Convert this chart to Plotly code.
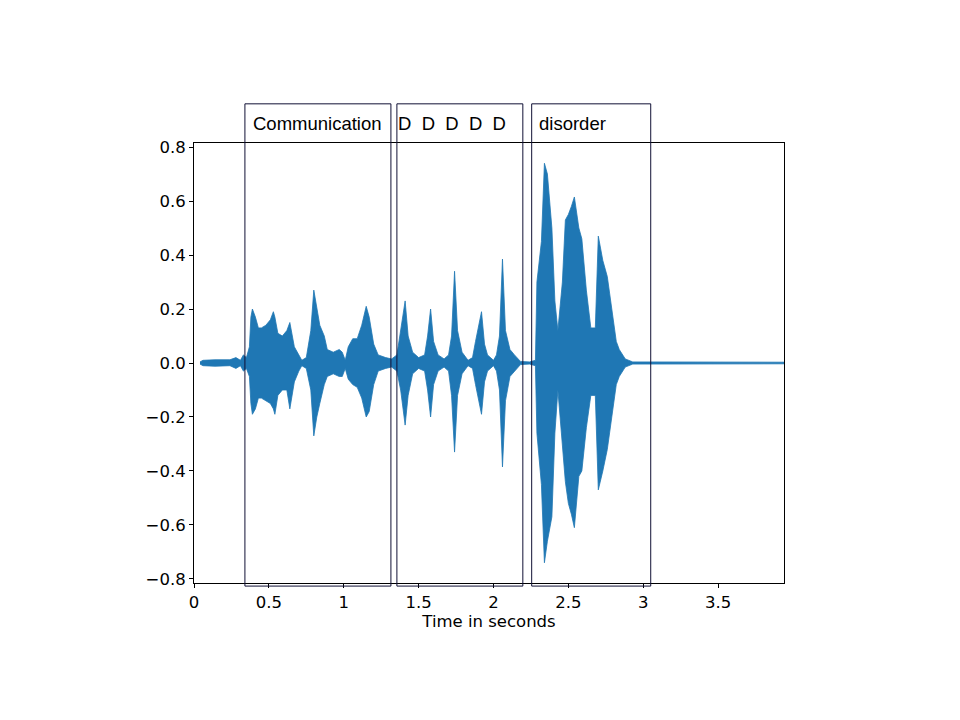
"""Waveform of an utterance with word boxes, drawn as a min/max envelope."""
import plotly.graph_objects as go

WAVE_BLUE = "#1f77b4"
BOX_EDGE = "#101035"

# envelope: time (s), upper and lower sample extremes
time_s = [0.04, 0.06, 0.14, 0.24, 0.28, 0.31, 0.33, 0.35, 0.37, 0.38,
          0.39, 0.41, 0.43, 0.45, 0.48, 0.51, 0.53, 0.54, 0.56, 0.59,
          0.62, 0.64, 0.67, 0.70, 0.72, 0.75, 0.78, 0.80, 0.82, 0.84,
          0.87, 0.89, 0.93, 0.97, 0.99, 1.01, 1.03, 1.06, 1.09, 1.12,
          1.15, 1.17, 1.20, 1.23, 1.28, 1.32, 1.355, 1.38, 1.41, 1.43,
          1.46, 1.50, 1.54, 1.56, 1.58, 1.60, 1.63, 1.67, 1.70, 1.72,
          1.74, 1.76, 1.79, 1.83, 1.86, 1.88, 1.92, 1.94, 1.96, 2.00,
          2.02, 2.04, 2.06, 2.08, 2.11, 2.14, 2.18, 2.24, 2.28, 2.29,
          2.32, 2.34, 2.36, 2.39, 2.41, 2.43, 2.46, 2.48, 2.50, 2.52,
          2.54, 2.57, 2.59, 2.62, 2.65, 2.68, 2.70, 2.73, 2.76, 2.79,
          2.82, 2.84, 2.88, 2.93, 3.38, 3.94]
upper = [0.004, 0.010, 0.012, 0.012, 0.020, 0.010, 0.030, 0.020, 0.060, 0.170,
         0.200, 0.170, 0.130, 0.130, 0.140, 0.160, 0.190, 0.170, 0.110, 0.100,
         0.120, 0.150, 0.060, 0.030, 0.010, 0.020, 0.120, 0.270, 0.200, 0.140,
         0.100, 0.050, 0.040, 0.050, 0.040, 0.010, 0.060, 0.090, 0.090, 0.140,
         0.210, 0.170, 0.070, 0.030, 0.020, 0.015, 0.030, 0.120, 0.230, 0.100,
         0.040, 0.020, 0.030, 0.100, 0.200, 0.080, 0.030, 0.015, 0.030, 0.100,
         0.340, 0.120, 0.040, 0.010, 0.020, 0.080, 0.190, 0.070, 0.030, 0.010,
         0.030, 0.100, 0.385, 0.120, 0.050, 0.030, 0.006, 0.004, 0.010, 0.300,
         0.450, 0.740, 0.700, 0.500, 0.230, 0.120, 0.300, 0.530, 0.550, 0.580,
         0.615, 0.500, 0.460, 0.270, 0.130, 0.130, 0.470, 0.380, 0.320, 0.200,
         0.080, 0.050, 0.015, 0.004, 0.003, 0.003]
lower = [-0.004, -0.010, -0.012, -0.010, -0.020, -0.010, -0.030, -0.020, -0.050, -0.150,
         -0.190, -0.170, -0.130, -0.130, -0.140, -0.150, -0.170, -0.190, -0.120, -0.100,
         -0.100, -0.170, -0.070, -0.030, -0.010, -0.020, -0.100, -0.270, -0.200, -0.150,
         -0.080, -0.050, -0.040, -0.050, -0.050, -0.020, -0.060, -0.080, -0.090, -0.130,
         -0.200, -0.180, -0.080, -0.030, -0.020, -0.015, -0.030, -0.100, -0.230, -0.120,
         -0.040, -0.020, -0.030, -0.100, -0.200, -0.080, -0.030, -0.015, -0.030, -0.120,
         -0.330, -0.120, -0.040, -0.010, -0.020, -0.080, -0.190, -0.070, -0.030, -0.010,
         -0.030, -0.100, -0.385, -0.140, -0.050, -0.030, -0.006, -0.004, -0.010, -0.260,
         -0.450, -0.740, -0.660, -0.570, -0.260, -0.100, -0.300, -0.440, -0.520, -0.560,
         -0.610, -0.420, -0.400, -0.240, -0.120, -0.120, -0.470, -0.400, -0.320, -0.200,
         -0.080, -0.050, -0.015, -0.004, -0.003, -0.003]

# word segments: label, start (s), end (s)
words = ["Communication", "D\u00a0\u00a0D\u00a0\u00a0D\u00a0\u00a0D\u00a0\u00a0D", "disorder"]
word_start = [0.34, 1.355, 2.255]
word_end = [1.315, 2.196, 3.05]

x_ticks = [0, 0.5, 1, 1.5, 2, 2.5, 3, 3.5]
x_labels = ["0", "0.5", "1", "1.5", "2", "2.5", "3", "3.5"]
y_ticks = [0.8, 0.6, 0.4, 0.2, 0.0, -0.2, -0.4, -0.6, -0.8]
y_labels = ["0.8", "0.6", "0.4", "0.2", "0.0", "\u22120.2", "\u22120.4", "\u22120.6", "\u22120.8"]

X_RANGE = [0, 3.94]
Y_RANGE = [-0.815, 0.815]
BOX_TOP, BOX_BOTTOM = 1.089, -0.007   # paper coords, boxes poke above the axes
LABEL_PAD_PX = (6, -1, 5)              # text inset from each box's left edge
PLOT_W = 590


def to_paper(t):
    return (t - X_RANGE[0]) / (X_RANGE[1] - X_RANGE[0])


fig = go.Figure()
fig.add_trace(go.Scatter(
    x=time_s + time_s[::-1], y=upper + lower[::-1], mode="lines",
    fill="toself", fillcolor=WAVE_BLUE, line=dict(color=WAVE_BLUE, width=0.8),
    showlegend=False, hoverinfo="skip"))

for label, t0, t1, pad in zip(words, word_start, word_end, LABEL_PAD_PX):
    fig.add_shape(type="rect", xref="paper", yref="paper",
                  x0=to_paper(t0), x1=to_paper(t1), y0=BOX_BOTTOM, y1=BOX_TOP,
                  line=dict(color=BOX_EDGE, width=1), layer="above")
    fig.add_annotation(x=to_paper(t0) + pad / PLOT_W, y=1.045, xref="paper", yref="paper",
                       text=label, showarrow=False, xanchor="left", yanchor="middle",
                       font=dict(family="Liberation Sans, Arial", size=18.5, color="black"))

axis_common = dict(showline=True, linecolor="black", linewidth=1, mirror=True,
                   ticks="outside", ticklen=4, tickcolor="black", showgrid=False,
                   zeroline=False, tickfont=dict(size=16.5, color="black"))
fig.update_xaxes(range=X_RANGE, tickvals=x_ticks, ticktext=x_labels,
                 title=dict(text="Time in seconds", standoff=2,
                            font=dict(size=16.5, color="black")), **axis_common)
fig.update_yaxes(range=Y_RANGE, tickvals=y_ticks, ticktext=y_labels, **axis_common)
# page body adds 8 px offset, so margins are shifted to keep axes at 194..784 / 143..583
fig.update_layout(width=960, height=720, plot_bgcolor="white", paper_bgcolor="white",
                  font=dict(family="DejaVu Sans"),
                  margin=dict(l=186, r=184, t=135, b=145))
fig.write_html("out.html")
